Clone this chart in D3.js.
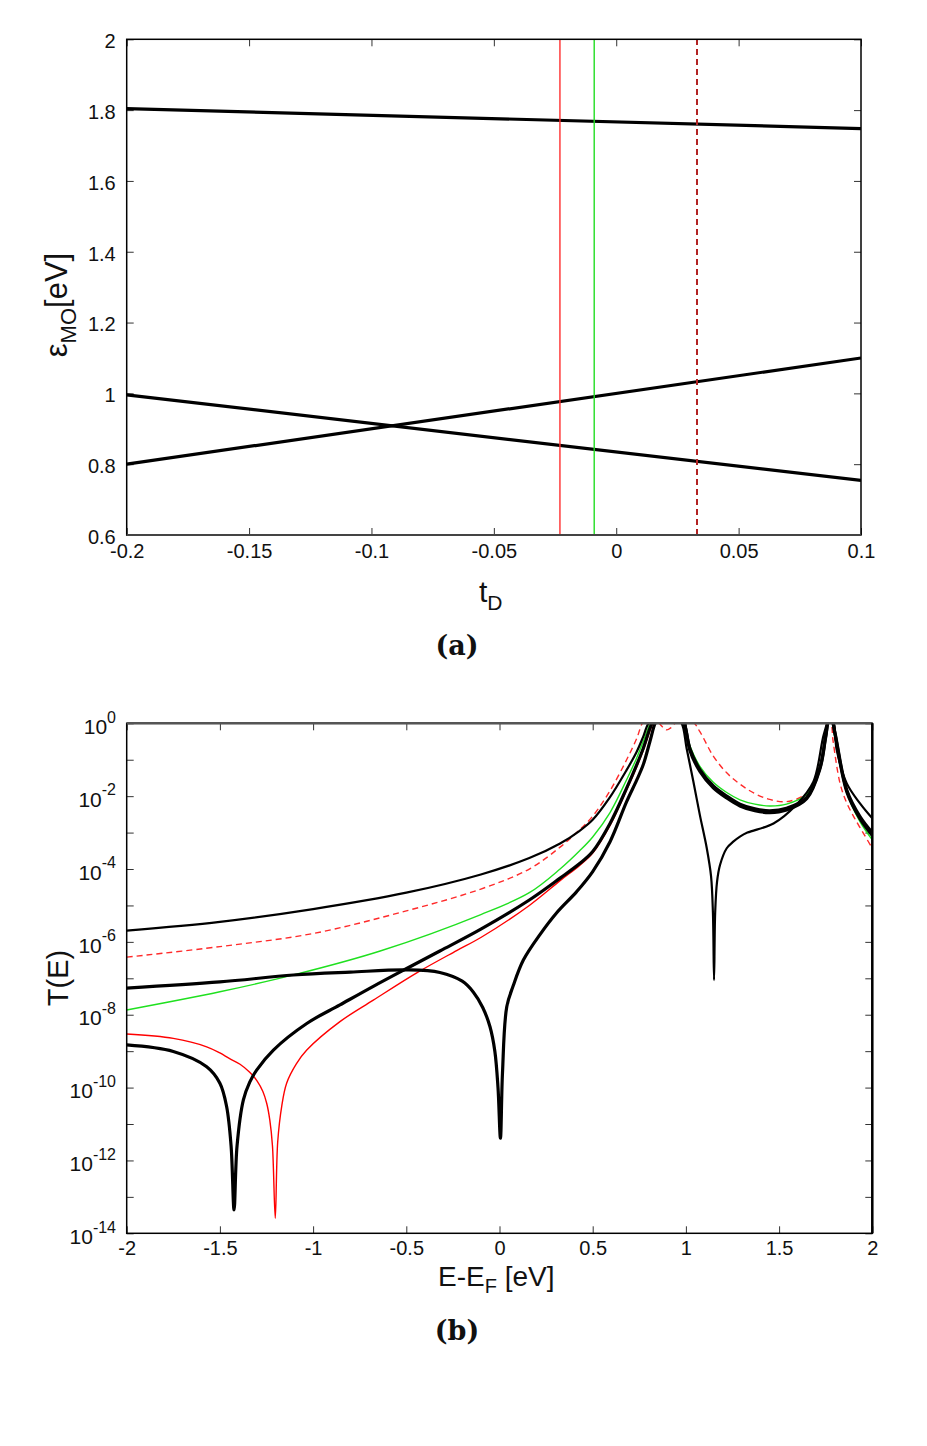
<!DOCTYPE html>
<html><head><meta charset="utf-8">
<script src="https://cdn.jsdelivr.net/npm/d3@7"></script>
<style>body{margin:0;background:#fff} svg{display:block} text{font-family:"Liberation Sans",Arial,sans-serif;fill:#111}</style>
</head><body>
<svg id="c" width="927" height="1446"></svg>
<script>
// ---------- Panel (a): MO energies vs t_D ----------
const tdTicks = [-0.2, -0.15, -0.1, -0.05, 0, 0.05, 0.1];
const moTicks = [0.6, 0.8, 1, 1.2, 1.4, 1.6, 1.8, 2];
const moLevelUpper = [[-0.2, 1.804], [0.1, 1.748]];
const moLevelFalling = [[-0.2, 0.996], [0.1, 0.754]];
const moLevelRising = [[-0.2, 0.800], [0.1, 1.100]];
const markerRed = -0.023;
const markerGreen = -0.009;
const markerDashed = 0.033;

// ---------- Panel (b): transmission T(E), values as [E, log10 T] ----------
const eTicks = [-2, -1.5, -1, -0.5, 0, 0.5, 1, 1.5, 2];
const decadeTicks = [0, -1, -2, -3, -4, -5, -6, -7, -8, -9, -10, -11, -12, -13, -14];
const decadeLabels = [0, -2, -4, -6, -8, -10, -12, -14];

const redDashed = [[-2,-6.42],[-1.5,-6.13],[-1,-5.77],[-0.5,-5.15],[-0.1,-4.55],[0.16,-4.0],[0.325,-3.4],[0.43,-2.92],[0.5,-2.55],[0.593,-1.85],[0.682,-1.0],[0.736,-0.42],[0.77,0.02],[0.8,0.08],[0.85,0.02],[0.875,-0.1],[0.897,-0.18],[0.92,-0.12],[0.945,0.02],[0.97,0.08],[1.04,0.02],[1.075,-0.23],[1.147,-0.9],[1.219,-1.36],[1.29,-1.67],[1.37,-1.93],[1.45,-2.09],[1.54,-2.15],[1.648,-1.92],[1.719,-1.19],[1.75,-0.2],[1.762,0.1],[1.775,0.1],[1.79,-0.5],[1.827,-1.65],[1.86,-2.15],[1.9,-2.56],[1.95,-3.0],[2,-3.43]];

const green = [[-2,-7.87],[-1.5,-7.37],[-1.1,-6.9],[-0.64,-6.25],[-0.1,-5.25],[0.16,-4.65],[0.325,-4.0],[0.43,-3.5],[0.5,-3.12],[0.593,-2.45],[0.682,-1.55],[0.736,-0.95],[0.771,-0.5],[0.81,0],[0.83,0.1],[0.97,0.1],[0.985,0],[1.022,-0.62],[1.075,-1.18],[1.147,-1.62],[1.219,-1.9],[1.29,-2.1],[1.37,-2.22],[1.45,-2.27],[1.54,-2.22],[1.648,-1.95],[1.719,-1.17],[1.75,-0.3],[1.766,0.1],[1.78,0.1],[1.8,-0.4],[1.863,-1.9],[1.934,-2.7],[2,-3.2]];

const redSolid = [[-2,-8.53],[-1.75,-8.65],[-1.571,-8.88],[-1.5,-9.05],[-1.45,-9.2],[-1.392,-9.36],[-1.34,-9.58],[-1.3,-9.82],[-1.27,-10.1],[-1.249,-10.43],[-1.232,-10.9],[-1.218,-11.6],[-1.203,-13.59],[-1.19,-11.5],[-1.168,-10.5],[-1.142,-9.88],[-1.09,-9.35],[-1.034,-8.97],[-0.856,-8.19],[-0.677,-7.6],[-0.444,-6.85],[-0.23,-6.24],[-0.1,-5.88],[0.16,-5.0],[0.325,-4.32],[0.43,-3.9],[0.5,-3.56],[0.593,-2.8],[0.682,-1.83],[0.736,-1.2],[0.771,-0.75],[0.815,-0.1],[0.835,0.1],[0.97,0.1],[0.99,0],[1.022,-0.72],[1.075,-1.29],[1.147,-1.74],[1.219,-2.02],[1.29,-2.24],[1.37,-2.37],[1.45,-2.42],[1.54,-2.35],[1.648,-2.05],[1.719,-1.23],[1.75,-0.35],[1.768,0.1],[1.782,0.1],[1.8,-0.28],[1.863,-1.86],[1.934,-2.6],[2,-3.05]];

const blackThin = [[-2,-5.69],[-1.5,-5.45],[-1,-5.1],[-0.5,-4.65],[-0.1,-4.15],[0.16,-3.7],[0.325,-3.3],[0.43,-2.95],[0.5,-2.65],[0.59,-2.05],[0.68,-1.3],[0.736,-0.78],[0.77,-0.38],[0.8,0],[0.83,0.1],[0.95,0.1],[0.977,0],[1.004,-0.69],[1.04,-1.6],[1.075,-2.52],[1.112,-3.43],[1.135,-4.2],[1.145,-5.2],[1.151,-7.05],[1.157,-5.2],[1.167,-4.35],[1.183,-3.89],[1.219,-3.43],[1.254,-3.25],[1.29,-3.11],[1.33,-3.0],[1.47,-2.75],[1.59,-2.25],[1.684,-1.6],[1.74,-0.3],[1.77,0.1],[1.79,0.05],[1.809,-0.73],[1.863,-1.65],[1.934,-2.2],[2,-2.61]];

const blackDipLow = [[-2,-8.83],[-1.75,-9.01],[-1.571,-9.43],[-1.5,-9.88],[-1.464,-10.52],[-1.44,-11.6],[-1.424,-13.36],[-1.408,-11.6],[-1.374,-10.34],[-1.34,-9.85],[-1.303,-9.52],[-1.213,-8.97],[-1.034,-8.24],[-0.856,-7.73],[-0.677,-7.22],[-0.498,-6.73],[-0.32,-6.25],[-0.1,-5.65],[0.16,-4.85],[0.325,-4.25],[0.43,-3.85],[0.5,-3.52],[0.593,-2.75],[0.682,-1.78],[0.736,-1.14],[0.771,-0.69],[0.81,-0.1],[0.83,0.1],[0.97,0.1],[0.99,0],[1.022,-0.7],[1.075,-1.27],[1.147,-1.72],[1.219,-2.0],[1.29,-2.22],[1.37,-2.35],[1.45,-2.4],[1.54,-2.33],[1.648,-2.03],[1.719,-1.22],[1.75,-0.35],[1.768,0.1],[1.782,0.1],[1.8,-0.27],[1.863,-1.83],[1.934,-2.56],[2,-3.0]];

const blackDipZero = [[-2,-7.27],[-1.5,-7.1],[-1.106,-6.91],[-0.8,-6.83],[-0.498,-6.77],[-0.32,-6.84],[-0.2,-7.08],[-0.14,-7.38],[-0.09,-7.8],[-0.051,-8.33],[-0.025,-9.0],[-0.008,-10.0],[0.005,-11.39],[0.016,-9.6],[0.039,-7.78],[0.074,-7.2],[0.128,-6.5],[0.217,-5.8],[0.307,-5.2],[0.414,-4.62],[0.5,-4.07],[0.593,-3.25],[0.682,-2.15],[0.736,-1.56],[0.771,-1.14],[0.807,-0.5],[0.835,0],[0.85,0.1],[0.97,0.1],[0.99,0],[1.022,-0.75],[1.075,-1.32],[1.147,-1.77],[1.219,-2.05],[1.29,-2.27],[1.37,-2.4],[1.45,-2.45],[1.54,-2.38],[1.648,-2.07],[1.719,-1.25],[1.75,-0.38],[1.768,0.1],[1.782,0.1],[1.8,-0.3],[1.863,-1.88],[1.934,-2.62],[2,-3.08]];

// ---------- drawing ----------
const svg = d3.select('#c');
svg.append('rect').attr('width', 927).attr('height', 1446).attr('fill', '#fff');
const defs = svg.append('defs');

function styleAxis(g) {
  g.selectAll('.tick line').attr('stroke', '#333').attr('stroke-width', 1);
  g.selectAll('.domain').remove();
  g.selectAll('text').style('font-size', '20px').attr('fill', '#111')
    .style('font-family', '"Liberation Sans", Arial, sans-serif');
}

// ===== Panel (a) =====
const A = {l: 126.7, r: 861, t: 39.3, b: 535};
const xA = d3.scaleLinear().domain([-0.2, 0.1]).range([A.l, A.r]);
const yA = d3.scaleLinear().domain([0.6, 2]).range([A.b, A.t]);
const fmt = d => String(d);

const gA = svg.append('g');
gA.append('g').attr('transform', `translate(0,${A.b})`)
  .call(d3.axisBottom(xA).tickValues(tdTicks).tickFormat(fmt).tickSizeInner(-7).tickSizeOuter(0).tickPadding(9))
  .call(styleAxis);
gA.append('g').attr('transform', `translate(0,${A.t})`)
  .call(d3.axisTop(xA).tickValues(tdTicks).tickFormat('').tickSizeInner(-7).tickSizeOuter(0))
  .call(styleAxis);
gA.append('g').attr('transform', `translate(${A.l},0)`)
  .call(d3.axisLeft(yA).tickValues(moTicks).tickFormat(fmt).tickSizeInner(-7).tickSizeOuter(0).tickPadding(11))
  .call(styleAxis)
  .call(g => g.selectAll('text').attr('dy', '0.42em'));
gA.append('g').attr('transform', `translate(${A.r},0)`)
  .call(d3.axisRight(yA).tickValues(moTicks).tickFormat('').tickSizeInner(-7).tickSizeOuter(0))
  .call(styleAxis);

defs.append('clipPath').attr('id', 'clipA').append('rect')
  .attr('x', A.l).attr('y', A.t).attr('width', A.r - A.l).attr('height', A.b - A.t);
const plotA = gA.append('g').attr('clip-path', 'url(#clipA)');

const lineA = d3.line().x(d => xA(d[0])).y(d => yA(d[1]));
[moLevelUpper, moLevelFalling, moLevelRising].forEach(lv => {
  plotA.append('path').attr('d', lineA(lv)).attr('fill', 'none')
    .attr('stroke', '#000').attr('stroke-width', 3.2);
});
const markers = [
  {t: markerRed, c: '#ff3030', w: 1.4, dash: null},
  {t: markerGreen, c: '#22dd22', w: 1.4, dash: null},
  {t: markerDashed, c: '#b22222', w: 2, dash: '6,4'}
];
markers.forEach(m => {
  plotA.append('line').attr('x1', xA(m.t)).attr('x2', xA(m.t))
    .attr('y1', yA(0.6)).attr('y2', yA(2))
    .attr('stroke', m.c).attr('stroke-width', m.w).attr('stroke-dasharray', m.dash);
});
gA.append('rect').attr('x', A.l).attr('y', A.t).attr('width', A.r - A.l).attr('height', A.b - A.t)
  .attr('fill', 'none').attr('stroke', '#000').attr('stroke-width', 1.5);
gA.append('line').attr('x1', A.l).attr('x2', A.r).attr('y1', A.b).attr('y2', A.b)
  .attr('stroke', '#444').attr('stroke-width', 2);

// axis titles (a)
svg.append('text').attr('transform', 'translate(67,305) rotate(-90)').attr('text-anchor', 'middle')
  .style('font-size', '31px')
  .call(t => {
    t.append('tspan').text('ε');
    t.append('tspan').attr('dy', 9).style('font-size', '22px').text('MO');
    t.append('tspan').attr('dy', -9).text('[eV]');
  });
svg.append('text').attr('x', 479).attr('y', 602).style('font-size', '30px')
  .call(t => {
    t.append('tspan').text('t');
    t.append('tspan').attr('dy', 8).style('font-size', '21px').text('D');
  });
svg.append('text').attr('x', 457).attr('y', 655).attr('text-anchor', 'middle')
  .style('font-family', '"DejaVu Serif", serif').style('font-weight', 'bold').style('font-size', '27px')
  .text('(a)');

// ===== Panel (b) =====
const B = {l: 126.7, r: 872.3, t: 723.3, b: 1233.3};
const xB = d3.scaleLinear().domain([-2, 2]).range([B.l, B.r]);
const yB = d3.scaleLog().domain([1e-14, 1]).range([B.b, B.t]);
const decVals = decadeTicks.map(e => Math.pow(10, e));

const gB = svg.append('g');
gB.append('g').attr('transform', `translate(0,${B.b})`)
  .call(d3.axisBottom(xB).tickValues(eTicks).tickFormat(fmt).tickSizeInner(-7).tickSizeOuter(0).tickPadding(8))
  .call(styleAxis);
gB.append('g').attr('transform', `translate(0,${B.t})`)
  .call(d3.axisTop(xB).tickValues(eTicks).tickFormat('').tickSizeInner(-7).tickSizeOuter(0))
  .call(styleAxis);
gB.append('g').attr('transform', `translate(${B.l},0)`)
  .call(d3.axisLeft(yB).tickValues(decVals).tickFormat('').tickSizeInner(-7).tickSizeOuter(0))
  .call(styleAxis);
gB.append('g').attr('transform', `translate(${B.r},0)`)
  .call(d3.axisRight(yB).tickValues(decVals).tickFormat('').tickSizeInner(-7).tickSizeOuter(0))
  .call(styleAxis);

// decade labels 10^n
decadeLabels.forEach(e => {
  const y = yB(Math.pow(10, e));
  const t = gB.append('text').attr('x', 116).attr('y', y + 10.7).attr('text-anchor', 'end')
    .style('font-size', '21px');
  t.append('tspan').text('10');
  t.append('tspan').attr('dy', -11.5).style('font-size', '16px').text(String(e));
});

defs.append('clipPath').attr('id', 'clipB').append('rect')
  .attr('x', B.l).attr('y', B.t).attr('width', B.r - B.l).attr('height', B.b - B.t);
const plotB = gB.append('g').attr('clip-path', 'url(#clipB)');
const lineB = d3.line().x(d => xB(d[0])).y(d => yB(Math.pow(10, d[1]))).curve(d3.curveCatmullRom.alpha(0.5));

const series = [
  {d: redDashed, c: '#ff2a2a', w: 1.4, dash: '6,4'},
  {d: green, c: '#1fe01f', w: 1.4, dash: null},
  {d: redSolid, c: '#ff0000', w: 1.4, dash: null},
  {d: blackThin, c: '#000', w: 2.2, dash: null},
  {d: blackDipLow, c: '#000', w: 3.2, dash: null},
  {d: blackDipZero, c: '#000', w: 3.2, dash: null}
];
series.forEach(s => {
  plotB.append('path').attr('d', lineB(s.d)).attr('fill', 'none')
    .attr('stroke', s.c).attr('stroke-width', s.w).attr('stroke-dasharray', s.dash)
    .attr('stroke-linejoin', 'round');
});

gB.append('rect').attr('x', B.l).attr('y', B.t).attr('width', B.r - B.l).attr('height', B.b - B.t)
  .attr('fill', 'none').attr('stroke', '#000').attr('stroke-width', 1.5);
gB.append('line').attr('x1', B.l).attr('x2', B.r).attr('y1', B.t).attr('y2', B.t)
  .attr('stroke', '#555').attr('stroke-width', 2.5);
gB.append('line').attr('x1', B.r).attr('x2', B.r).attr('y1', B.t).attr('y2', B.b)
  .attr('stroke', '#000').attr('stroke-width', 2.5);

// axis titles (b)
svg.append('text').attr('transform', 'translate(68,978) rotate(-90)').attr('text-anchor', 'middle')
  .style('font-size', '29px').text('T(E)');
svg.append('text').attr('x', 438).attr('y', 1286).style('font-size', '28px')
  .call(t => {
    t.append('tspan').text('E-E');
    t.append('tspan').attr('dy', 7).style('font-size', '20px').text('F');
    t.append('tspan').attr('dy', -7).text('\u00A0[eV]');
  });
svg.append('text').attr('x', 457).attr('y', 1340).attr('text-anchor', 'middle')
  .style('font-family', '"DejaVu Serif", serif').style('font-weight', 'bold').style('font-size', '27px')
  .text('(b)');
</script>
</body></html>
